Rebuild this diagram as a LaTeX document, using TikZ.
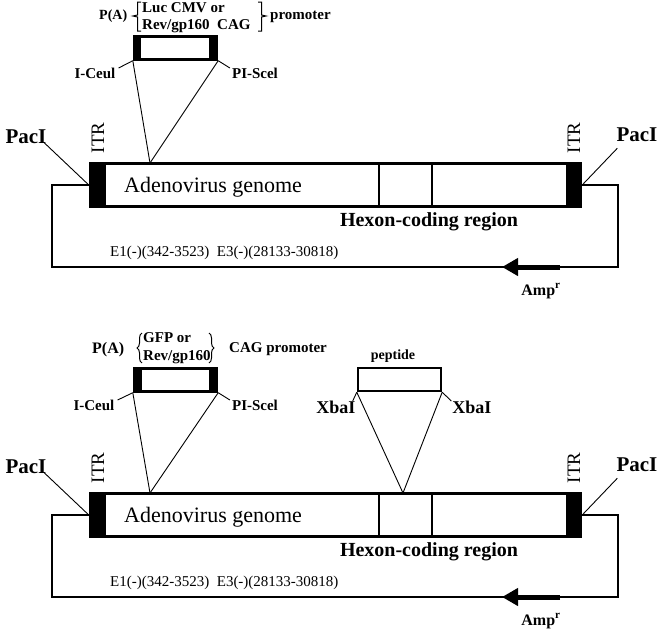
\documentclass[tikz,border=0pt]{standalone}
\usepackage{fontspec}
\setmainfont{Liberation Serif}
\usetikzlibrary{arrows.meta,decorations.pathreplacing}
\tikzset{
  genomebox/.style={draw, line width=2.8pt, inner sep=0, minimum width=462pt, minimum height=43pt},
  itrbox/.style={fill=black, inner sep=0, minimum height=46pt},
  insbox/.style={draw, line width=2.4pt, fill=white, inner sep=0, minimum width=83pt, minimum height=23pt},
  bbone/.style={line width=1.8pt},
  thinline/.style={line width=0.9pt},
  divline/.style={line width=1.8pt},
  ampline/.style={line width=5pt, -{Triangle[length=16pt,width=17pt]}},
  txt/.style={inner sep=0, font=\fontsize{15}{17}\selectfont},
  btxt/.style={inner sep=0, font=\fontsize{15}{17}\selectfont\bfseries},
  bigtxt/.style={inner sep=0, font=\fontsize{22}{24}\selectfont},
  pactxt/.style={inner sep=0, font=\fontsize{21}{23}\selectfont\bfseries},
  hextxt/.style={inner sep=0, font=\fontsize{20}{22}\selectfont\bfseries},
  itrtxt/.style={inner sep=0, rotate=90, font=\fontsize{19}{21}\selectfont},
  amptxt/.style={inner sep=0, font=\fontsize{16}{18}\selectfont\bfseries},
  bracebar/.style={line width=1pt},
  curlybrace/.style={line width=1pt, decorate, decoration={brace, amplitude=5pt}},
}
\newcommand\dnapanel[1]{%
  \node[genomebox] (g#1) at (336,-185) {};
  \node[itrbox, minimum width=16pt] (itrL#1) at (97,-185) {};
  \node[itrbox, minimum width=15pt] (itrR#1) at (574.5,-185) {};
  \draw[divline] ([xshift=275pt]g#1.north west) -- ([xshift=275pt]g#1.south west);
  \draw[divline] ([xshift=328pt]g#1.north west) -- ([xshift=328pt]g#1.south west);
  \coordinate (bl#1) at (52,-267);
  \coordinate (br#1) at (618,-267);
  \draw[bbone] (itrL#1.west) -| (bl#1) -- (br#1) |- (itrR#1.east);
  \coordinate (as#1) at (560,-267);
  \coordinate (ae#1) at (502,-267);
  \draw[ampline] (as#1) -- (ae#1);
  \node[amptxt] (amp#1) at (541,-291) {Amp\textsuperscript{r}};
  \node[hextxt] (hex#1) at (429,-222) {Hexon-coding region};
  \node[bigtxt, anchor=west] (ad#1) at (124,-187) {Adenovirus genome};
  \node[txt, anchor=west] (e#1) at (110,-253) {E1(-)(342-3523)\ \ E3(-)(28133-30818)};
  \node[itrtxt] (itrtL#1) at (98,-138) {ITR};
  \node[itrtxt] (itrtR#1) at (574,-138) {ITR};
  \node[pactxt] (pacL#1) at (26,-137) {PacI};
  \node[pactxt] (pacR#1) at (637,-135) {PacI};
  \draw[thinline] ([xshift=-3pt,yshift=2pt]pacL#1.south east) -- (itrL#1.west);
  \draw[thinline] ([xshift=1pt,yshift=-6pt]pacR#1.south west) -- (itrR#1.east);
}
\begin{document}
\begin{tikzpicture}[x=1pt,y=1pt]
\useasboundingbox (0,0) rectangle (657,-632);
% ---------------- top panel ----------------
\dnapanel{1}
\node[insbox] (ins1) at (175.5,-48) {};
\fill (ins1.north west) rectangle ([xshift=8pt]ins1.south west);
\fill ([xshift=-9pt]ins1.north east) rectangle (ins1.south east);
\coordinate (c1) at (150,-163);
\draw[thinline] (ins1.south west) -- (c1);
\draw[thinline] (ins1.south east) -- (c1);
\node[btxt] (ic1) at (95,-73) {I-Ceul};
\node[btxt] (ps1) at (255,-73) {PI-Scel};
\draw[thinline] ([xshift=3pt,yshift=5pt]ic1.east) -- (ins1.south west);
\draw[thinline] (ins1.south east) -- ([xshift=-2pt,yshift=5pt]ps1.west);
\node[btxt, font=\fontsize{14}{16}\selectfont\bfseries, anchor=base west] (pa1) at (99,-19) {P(A)};
\node[btxt, anchor=base west] (luc1) at (142,-12) {Luc CMV or};
\node[btxt, anchor=base west] (rev1) at (142,-29) {Rev/gp160\ \ CAG};
\node[btxt, anchor=base west] (pro1) at (270,-19) {promoter};
\draw[bracebar] (141,-2) -- (137.5,-2) -- (137.5,-15) -- (133,-16) -- (137.5,-17) -- (137.5,-31) -- (141,-31);
\draw[bracebar] (258,-2) -- (261.5,-2) -- (261.5,-15) -- (266,-16) -- (261.5,-17) -- (261.5,-31) -- (258,-31);
% ---------------- bottom panel ----------------
\begin{scope}[yshift=-330pt]
\dnapanel{2}
\node[insbox] (ins2) at (175.5,-50) {};
\fill (ins2.north west) rectangle ([xshift=9pt]ins2.south west);
\fill ([xshift=-9pt]ins2.north east) rectangle (ins2.south east);
\coordinate (c2) at (150,-163);
\draw[thinline] (ins2.south west) -- (c2);
\draw[thinline] (ins2.south east) -- (c2);
\node[btxt] (ic2) at (94,-75) {I-Ceul};
\node[btxt] (ps2) at (255,-75) {PI-Scel};
\draw[thinline] ([xshift=3pt,yshift=5pt]ic2.east) -- (ins2.south west);
\draw[thinline] (ins2.south east) -- ([xshift=-2pt,yshift=5pt]ps2.west);
\node[btxt, font=\fontsize{16}{18}\selectfont\bfseries, anchor=base west] (pa2) at (92,-23) {P(A)};
\node[btxt, anchor=base west] (gfp2) at (143,-12) {GFP or};
\node[btxt, anchor=base west] (rev2) at (143,-30) {Rev/gp160};
\node[btxt, anchor=base west] (pro2) at (229,-22) {CAG promoter};
\draw[curlybrace] (142,-33) -- (142,-3);
\draw[curlybrace] (209,-3) -- (209,-33);
% peptide insert
\node[insbox] (pep2) at (399.5,-49.5) {};
\node[btxt, font=\fontsize{14}{16}\selectfont\bfseries] (pept2) at (393,-26) {peptide};
\coordinate (c3) at (403,-163);
\draw[thinline] (pep2.south west) -- (c3);
\draw[thinline] (pep2.south east) -- (c3);
\node[btxt, font=\fontsize{18}{20}\selectfont\bfseries] (xl2) at (336,-77) {XbaI};
\node[btxt, font=\fontsize{18}{20}\selectfont\bfseries] (xr2) at (472,-77) {XbaI};
\draw[thinline] (pep2.south west) -- ([xshift=-3pt,yshift=6pt]xl2.east);
\draw[thinline] (pep2.south east) -- ([xshift=-1pt,yshift=6pt]xr2.west);
\end{scope}
\end{tikzpicture}
\end{document}
